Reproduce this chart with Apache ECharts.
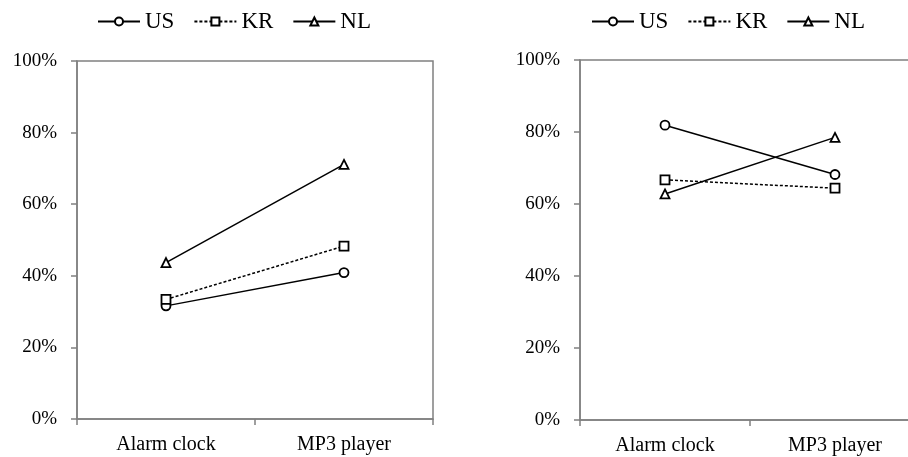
<!DOCTYPE html>
<html>
<head>
<meta charset="utf-8">
<script src="https://cdn.jsdelivr.net/npm/echarts@6/dist/echarts.min.js"></script>
<style>
html,body{margin:0;padding:0;background:#fff;}
#main{width:908px;height:457px;}
</style>
</head>
<body>
<div id="main"></div>
<script>
const categories = ['Alarm clock', 'MP3 player'];
const seriesNames = ['US', 'KR', 'NL'];
const leftUS = [31.6, 40.9];
const leftKR = [33.4, 48.3];
const leftNL = [43.7, 71.1];
const rightUS = [81.9, 68.2];
const rightKR = [66.7, 64.4];
const rightNL = [62.8, 78.5];
const yMin = 0, yMax = 100, yStep = 20;

const FONT = "'Liberation Serif', 'Times New Roman', serif";
const AXIS = '#808080';

function makeSeries(name, data, gridIdx, symbol, dashed) {
  return {
    name: name,
    type: 'line',
    xAxisIndex: gridIdx,
    yAxisIndex: gridIdx,
    data: data,
    symbol: symbol,
    symbolSize: 9,
    showSymbol: true,
    itemStyle: { color: '#fff', borderColor: '#000', borderWidth: 1.8 },
    lineStyle: { color: '#000', width: 1.5, type: dashed ? [3, 2] : 'solid' },
    emphasis: { disabled: true },
    animation: false
  };
}

function xAxis(gi) {
  return {
    type: 'category', gridIndex: gi, data: categories, boundaryGap: true,
    axisLine: { lineStyle: { color: AXIS, width: 1.5 } },
    axisTick: { show: true, length: 6, lineStyle: { color: AXIS, width: 1.5 } },
    axisLabel: { color: '#000', fontFamily: FONT, fontSize: 20, margin: 16 },
    splitLine: { show: false }
  };
}
function yAxis(gi) {
  return {
    type: 'value', gridIndex: gi, min: yMin, max: yMax, interval: yStep,
    axisLine: { show: true, lineStyle: { color: AXIS, width: 1.5 } },
    axisTick: { show: true, length: 6, lineStyle: { color: AXIS, width: 1.5 } },
    axisLabel: { color: '#000', fontFamily: FONT, fontSize: 19, margin: 20, formatter: '{value}%' },
    splitLine: { show: false }
  };
}
function legend(left) {
  return {
    data: seriesNames, left: left, top: 10, padding: 0, itemWidth: 42, itemHeight: 10, itemGap: 19,
    textStyle: { fontFamily: FONT, fontSize: 23, color: '#000' },
    selectedMode: false
  };
}

const chart = echarts.init(document.getElementById('main'), null, { renderer: 'canvas' });
chart.setOption({
  animation: false,
  backgroundColor: '#fff',
  legend: [legend(97), legend(591)],
  grid: [
    { left: 77, top: 61, width: 356, height: 358, show: true, borderColor: AXIS, borderWidth: 1.5, backgroundColor: 'transparent', outerBoundsMode: 'none', containLabel: false },
    { left: 580, top: 60, width: 340, height: 360, show: true, borderColor: AXIS, borderWidth: 1.5, backgroundColor: 'transparent', outerBoundsMode: 'none', containLabel: false }
  ],
  xAxis: [xAxis(0), xAxis(1)],
  yAxis: [yAxis(0), yAxis(1)],
  series: [
    makeSeries('US', leftUS, 0, 'circle', false),
    makeSeries('KR', leftKR, 0, 'rect', true),
    makeSeries('NL', leftNL, 0, 'triangle', false),
    makeSeries('US', rightUS, 1, 'circle', false),
    makeSeries('KR', rightKR, 1, 'rect', true),
    makeSeries('NL', rightNL, 1, 'triangle', false)
  ]
});
</script>
</body>
</html>
